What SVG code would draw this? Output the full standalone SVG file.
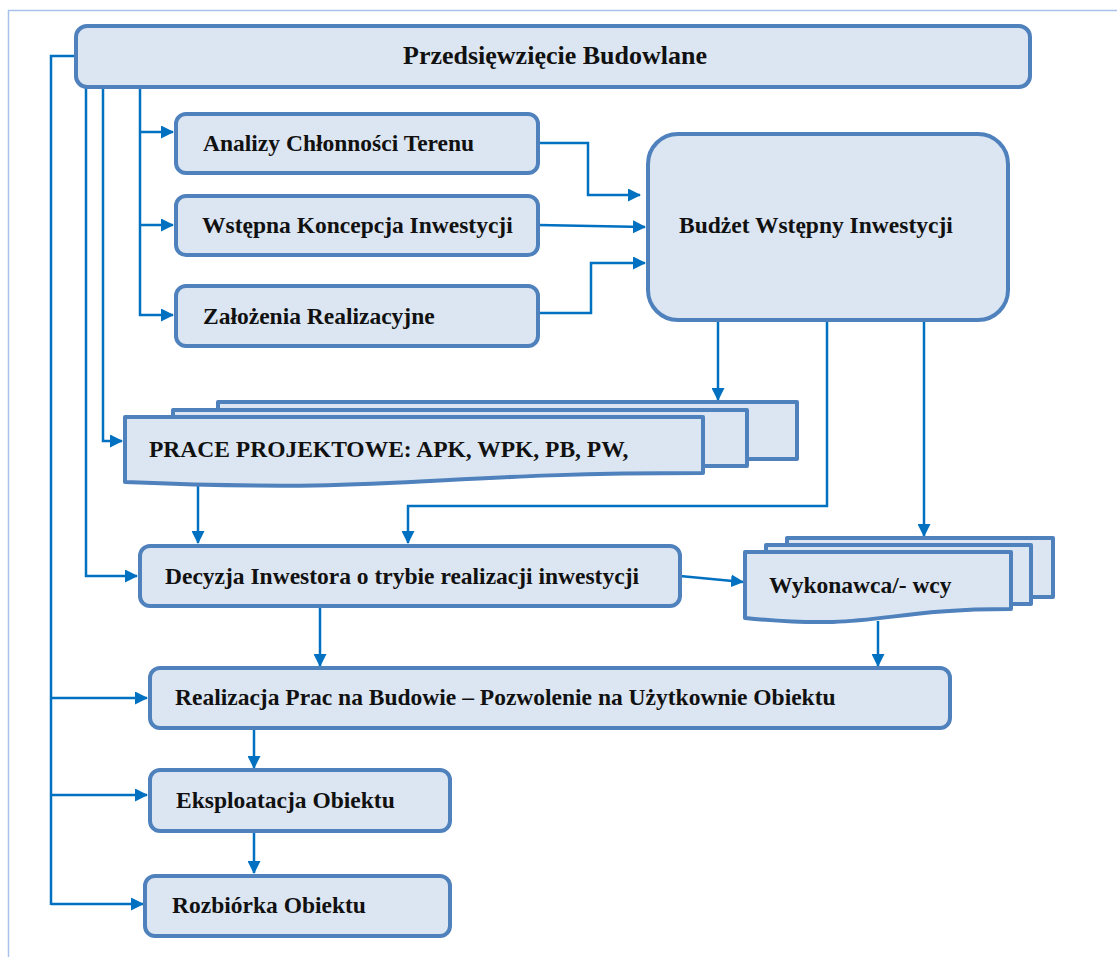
<svg xmlns="http://www.w3.org/2000/svg" width="1117" height="957" viewBox="0 0 1117 957">
<style>
.box{fill:#DCE6F2;stroke:#4F81BD;stroke-width:4;stroke-linejoin:round}
.lbl{font-family:"Liberation Serif","Times New Roman",serif;font-weight:bold;font-size:23.5px;fill:#111}
.ttl{font-size:26px}
.con{fill:none;stroke:#0070C0;stroke-width:2.5}
.frame{stroke:#A9C1EA;stroke-width:1.5;fill:none}
</style>
<defs>
<marker id="ah" markerUnits="userSpaceOnUse" markerWidth="13" markerHeight="13" refX="12" refY="6.5" orient="auto">
<path d="M0,0 L13,6.5 L0,13 Z" fill="#0070C0"/>
</marker>
</defs>
<rect width="1117" height="957" fill="#fff"/>
<path class="frame" d="M8.5,957 V10.5 H1117"/>

<g id="connectors">
<path class="con" d="M76,56 H51 V905"/>
<path class="con" d="M51,698 H147" marker-end="url(#ah)"/>
<path class="con" d="M51,795 H147" marker-end="url(#ah)"/>
<path class="con" d="M51,904 H143" marker-end="url(#ah)"/>
<path class="con" d="M86,88 V576 H137" marker-end="url(#ah)"/>
<path class="con" d="M103,88 V441 H122" marker-end="url(#ah)"/>
<path class="con" d="M140,88 V315 H173" marker-end="url(#ah)"/>
<path class="con" d="M140,132 H173" marker-end="url(#ah)"/>
<path class="con" d="M140,225 H173" marker-end="url(#ah)"/>
<path class="con" d="M538,143 H588 V195 H640" marker-end="url(#ah)"/>
<path class="con" d="M538,225 L645,227" marker-end="url(#ah)"/>
<path class="con" d="M538,313 H591 V263 H645" marker-end="url(#ah)"/>
<path class="con" d="M718,320 V400" marker-end="url(#ah)"/>
<path class="con" d="M827,320 V506 H408 V543" marker-end="url(#ah)"/>
<path class="con" d="M924,320 V536" marker-end="url(#ah)"/>
<path class="con" d="M198,485 V543" marker-end="url(#ah)"/>
<path class="con" d="M680,576 L743,582" marker-end="url(#ah)"/>
<path class="con" d="M320,606 V666" marker-end="url(#ah)"/>
<path class="con" d="M878,621 V666" marker-end="url(#ah)"/>
<path class="con" d="M254,729 V768" marker-end="url(#ah)"/>
<path class="con" d="M254,831 V873" marker-end="url(#ah)"/>
</g>

<g id="przedsiewziecie">
<rect class="box" x="76" y="26" width="954" height="61" rx="11"/>
<text class="lbl ttl" x="403" y="64">Przedsięwzięcie Budowlane</text>
</g>
<g id="analizy">
<rect class="box" x="176" y="114" width="362" height="59" rx="10"/>
<text class="lbl" x="203" y="151">Analizy Chłonności Terenu</text>
</g>
<g id="wstepna">
<rect class="box" x="176" y="196" width="362" height="59" rx="10"/>
<text class="lbl" x="202" y="233">Wstępna Koncepcja Inwestycji</text>
</g>
<g id="zalozenia">
<rect class="box" x="176" y="286" width="362" height="60" rx="10"/>
<text class="lbl" x="203" y="324">Założenia Realizacyjne</text>
</g>
<g id="budzet">
<rect class="box" x="648" y="134" width="360" height="186" rx="30"/>
<text class="lbl" x="679" y="233">Budżet Wstępny Inwestycji</text>
</g>
<g id="prace">
<rect class="box" x="218" y="402" width="579" height="57"/>
<rect class="box" x="173" y="410" width="574" height="56"/>
<path class="box" d="M125,417 H703 V473 C414,473 414,494 125,482 Z"/>
<text class="lbl" x="149" y="457">PRACE PROJEKTOWE: APK, WPK, PB, PW,</text>
</g>
<g id="decyzja">
<rect class="box" x="140" y="546" width="540" height="60" rx="10"/>
<text class="lbl" x="165" y="584">Decyzja Inwestora o trybie realizacji inwestycji</text>
</g>
<g id="wykonawca">
<rect class="box" x="787" y="538" width="266" height="59"/>
<rect class="box" x="766" y="545" width="265" height="59"/>
<path class="box" d="M745,552 H1011 V609 C878,609 878,631 745,618 Z"/>
<text class="lbl" x="769" y="593">Wykonawca/- wcy</text>
</g>
<g id="realizacja">
<rect class="box" x="150" y="668" width="800" height="60" rx="10"/>
<text class="lbl" x="175" y="705">Realizacja Prac na Budowie – Pozwolenie na Użytkownie Obiektu</text>
</g>
<g id="eksploatacja">
<rect class="box" x="150" y="770" width="300" height="61" rx="10"/>
<text class="lbl" x="176" y="808">Eksploatacja Obiektu</text>
</g>
<g id="rozbiorka">
<rect class="box" x="145" y="876" width="305" height="60" rx="10"/>
<text class="lbl" x="172" y="913">Rozbiórka Obiektu</text>
</g>
</svg>
